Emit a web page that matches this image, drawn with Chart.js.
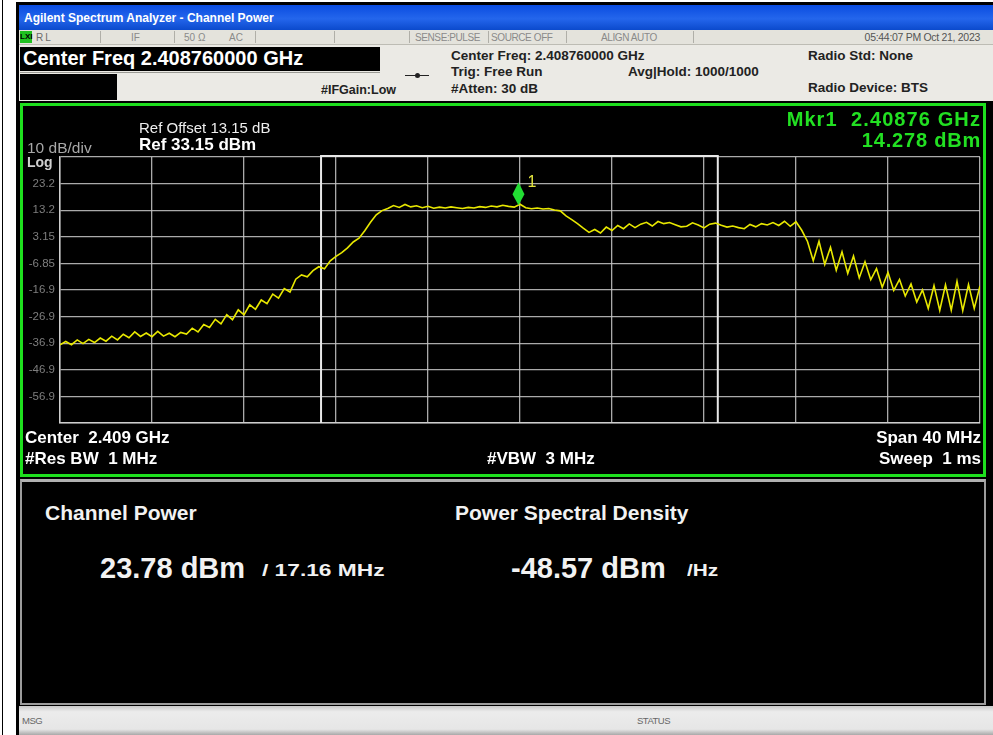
<!DOCTYPE html>
<html><head><meta charset="utf-8">
<script src="https://cdn.jsdelivr.net/npm/chart.js@4.4.1/dist/chart.umd.min.js"></script>
<style>
html,body{margin:0;padding:0;background:#fff;width:993px;height:735px;overflow:hidden;font-family:"Liberation Sans",Arial,sans-serif;}
.a{position:absolute;white-space:nowrap;line-height:1;}
.r{text-align:right;}
</style></head>
<body>
<div class="a" style="left:2px;top:0;width:1px;height:735px;background:#000"></div>
<div class="a" style="left:16px;top:2px;width:977px;height:733px;background:#000"></div>
<div class="a" style="left:19px;top:5px;width:974px;height:25px;background:linear-gradient(#0a4ce0,#2466ec 55%,#0b4acc)"></div>
<div class="a" style="left:24px;top:12px;color:#fff;font-weight:bold;font-size:12px">Agilent Spectrum Analyzer - Channel Power</div>
<!-- status strip -->
<div class="a" style="left:19px;top:30px;width:974px;height:14px;background:#e4e3dc;border-bottom:1px solid #bdbcb4"></div>
<div class="a" style="left:20px;top:31px;width:12px;height:12px;background:#20c020"></div>
<div class="a" style="left:20px;top:33px;font-size:8px;font-weight:bold;color:#000">LXI</div>
<div class="a" style="left:36px;top:33px;font-size:10px;color:#6a6a6a;letter-spacing:2px">RL</div>
<div class="a" style="left:131px;top:33px;font-size:10px;color:#8a8a8a">IF</div>
<div class="a" style="left:184px;top:33px;font-size:10px;color:#8a8a8a">50 Ω</div>
<div class="a" style="left:229px;top:33px;font-size:10px;color:#8a8a8a">AC</div>
<div class="a" style="left:415px;top:33px;font-size:10px;color:#8a8a8a;letter-spacing:-0.4px">SENSE:PULSE</div>
<div class="a" style="left:491px;top:33px;font-size:10px;color:#8a8a8a;letter-spacing:-0.4px">SOURCE OFF</div>
<div class="a" style="left:601px;top:33px;font-size:10px;color:#8a8a8a;letter-spacing:-0.4px">ALIGN AUTO</div>
<div class="a r" style="right:13px;top:32px;font-size:10.5px;color:#555;letter-spacing:-0.3px">05:44:07 PM Oct 21, 2023</div>
<!-- info panel -->
<div class="a" style="left:19px;top:45px;width:974px;height:56px;background:#ebeae5"></div>
<div class="a" style="left:20px;top:47px;width:360px;height:24px;background:#000"></div>
<div class="a" style="left:23px;top:48px;color:#fff;font-weight:bold;font-size:20px">Center Freq 2.408760000 GHz</div>
<div class="a" style="left:20px;top:74px;width:97px;height:26px;background:#000"></div>
<div class="a" style="left:20px;top:72px;width:360px;height:1px;background:#9a9a94"></div>
<div class="a" style="left:321px;top:84px;color:#222;font-weight:bold;font-size:12.5px">#IFGain:Low</div>
<div class="a" style="left:405px;top:75px;width:24px;height:1px;background:#222"></div>
<div class="a" style="left:415px;top:73px;width:5px;height:5px;border-radius:3px;background:#222"></div>
<div class="a" style="left:451px;top:49px;color:#222;font-weight:bold;font-size:13.5px">Center Freq: 2.408760000 GHz</div>
<div class="a" style="left:451px;top:65px;color:#222;font-weight:bold;font-size:13.5px">Trig: Free Run</div>
<div class="a" style="left:451px;top:82px;color:#222;font-weight:bold;font-size:13.5px">#Atten: 30 dB</div>
<div class="a" style="left:628px;top:65px;color:#222;font-weight:bold;font-size:13.5px">Avg|Hold: 1000/1000</div>
<div class="a" style="left:808px;top:49px;color:#222;font-weight:bold;font-size:13.5px">Radio Std: None</div>
<div class="a" style="left:808px;top:81px;color:#222;font-weight:bold;font-size:13.5px">Radio Device: BTS</div>
<!-- graph panel -->
<div class="a" style="left:20px;top:103px;width:966px;height:374px;box-sizing:border-box;border:3px solid #1ee01e;background:#000"></div>
<div class="a" style="left:23px;top:106px;width:960px;height:368px"><canvas id="c" width="960" height="368"></canvas></div>
<div class="a" style="left:139px;top:120px;color:#eee;font-size:15px">Ref Offset 13.15 dB</div>
<div class="a" style="left:139px;top:136px;color:#fff;font-weight:bold;font-size:17px">Ref 33.15 dBm</div>
<div class="a" style="left:27px;top:140px;color:#a8a8a8;font-size:15.5px">10 dB/div</div>
<div class="a" style="left:27px;top:155px;color:#d0d0d0;font-weight:bold;font-size:14px">Log</div>
<div class="a r" style="right:12px;top:109px;color:#22e022;font-weight:bold;font-size:20px;letter-spacing:1.1px">Mkr1&nbsp;&nbsp;2.40876 GHz</div>
<div class="a r" style="right:12px;top:130px;color:#22e022;font-weight:bold;font-size:20px;letter-spacing:0.8px">14.278 dBm</div>
<div class="a" style="left:25px;top:429px;color:#fff;font-weight:bold;font-size:17px">Center&nbsp;&nbsp;2.409 GHz</div>
<div class="a" style="left:25px;top:450px;color:#fff;font-weight:bold;font-size:17px">#Res BW&nbsp;&nbsp;1 MHz</div>
<div class="a" style="left:487px;top:450px;color:#fff;font-weight:bold;font-size:17px">#VBW&nbsp;&nbsp;3 MHz</div>
<div class="a r" style="right:12px;top:429px;color:#fff;font-weight:bold;font-size:17px">Span 40 MHz</div>
<div class="a r" style="right:12px;top:450px;color:#fff;font-weight:bold;font-size:17px">Sweep&nbsp;&nbsp;1 ms</div>
<!-- lower panel -->
<div class="a" style="left:20px;top:479px;width:966px;height:226px;box-sizing:border-box;border:2px solid #9c9c9c;border-top:3px solid #b0b0b0;background:#000"></div>
<div class="a" style="left:45px;top:502px;color:#f2f2f2;font-weight:bold;font-size:21px">Channel Power</div>
<div class="a" style="left:455px;top:502px;color:#f2f2f2;font-weight:bold;font-size:21px">Power Spectral Density</div>
<div class="a" style="left:100px;top:554px;color:#f2f2f2;font-weight:bold;font-size:29px">23.78 dBm</div>
<div class="a" style="left:262px;top:563px;color:#f2f2f2;font-weight:bold;font-size:16px;transform:scaleX(1.42);transform-origin:left">/ 17.16 MHz</div>
<div class="a" style="left:511px;top:554px;color:#f2f2f2;font-weight:bold;font-size:29px">-48.57 dBm</div>
<div class="a" style="left:687px;top:563px;color:#f2f2f2;font-weight:bold;font-size:16px;transform:scaleX(1.3);transform-origin:left">/Hz</div>
<!-- status bar -->
<div class="a" style="left:19px;top:706px;width:974px;height:29px;background:linear-gradient(#c8c8c8,#ececec 20%,#e6e6e6 80%,#a8a8a8)"></div>
<div class="a" style="left:22px;top:716px;color:#666;font-size:9.5px;letter-spacing:-0.5px">MSG</div>
<div class="a" style="left:637px;top:716px;color:#666;font-size:9.5px;letter-spacing:-0.5px">STATUS</div>
<script>
[100,174,255,334,409,488,566,693].forEach(function(x){
  var d=document.createElement('div');d.className='a';
  d.style.cssText='left:'+x+'px;top:31px;width:1px;height:12px;background:#b0afa8';
  document.body.appendChild(d);
});

const startMHz = 2389;
const stopMHz = 2429;
const refLevel = 33.15;
const dbPerDiv = 10;
const numDivs = 10;
const yTickLabels = ['23.2','13.2','3.15','-6.85','-16.9','-26.9','-36.9','-46.9','-56.9'];
const traceDbm = [
 -37.5,-36.2,-37.4,-35.6,-37.0,-35.4,-36.6,-34.9,-36.1,-34.2,-35.6,-33.5,-34.8,-32.6,-34.3,-33.0,-34.4,-32.4,-34.2,-33.1,-34.4,
 -32.8,-33.4,-31.2,-32.6,-29.8,-30.9,-27.9,-29.6,-26.1,-28.0,-24.3,-26.2,-22.4,-24.1,-20.6,-22.0,-18.4,-19.9,-16.3,-17.6,
 -12.8,-11.2,-11.9,-9.6,-8.1,-8.9,-5.9,-4.2,-2.8,-1.0,1.2,2.6,5.4,8.6,11.4,13.0,
 13.8,14.9,14.2,15.3,14.4,14.8,14.1,14.6,13.9,14.3,14.0,14.4,14.1,13.8,14.2,14.0,14.5,14.2,14.7,14.4,15.0,14.6,14.3,15.4,
 14.1,13.7,14.0,13.6,13.8,13.2,12.9,11.0,9.6,8.1,6.4,4.8,
 5.9,4.6,6.8,5.5,7.4,6.2,8.0,6.6,7.9,8.6,7.2,8.9,8.1,8.5,7.7,6.9,7.1,8.4,7.6,6.5,7.9,8.3,7.5,6.8,7.2,6.6,6.2,7.8,6.9,8.1,7.6,8.5,7.4,9.0,7.1,8.8,
 5.6,1.4,-5.8,1.5,-7.2,-0.8,-9.4,-2.5,-10.6,-4.1,-12.3,-6.2,-13.0,-8.8,-15.8,-10.2,-17.0,-12.9,-19.1,-14.6,-21.4,-16.8,-23.8,-15.2,-24.5,-14.9,-24.4,-13.6,-24.6,-14.8,-23.8,-15.3
];
const markerFreqMHz = 2408.76;
const markerDbm = 14.278;
const channelEdgesMHz = [2400.35, 2417.6];

const bottomLevel = refLevel - dbPerDiv*numDivs;
const stepMHz = (stopMHz-startMHz)/(traceDbm.length-1);
const tracePts = traceDbm.map((v,i)=>({x:startMHz+i*stepMHz, y:v}));

const overlay = {
  id:'overlay',
  beforeDatasetsDraw(chart){
    const {ctx, chartArea:a, scales:{x}} = chart;
    ctx.save();
    ctx.strokeStyle='#e8e8e8'; ctx.lineWidth=2;
    const x1=x.getPixelForValue(channelEdgesMHz[0]), x2=x.getPixelForValue(channelEdgesMHz[1]);
    ctx.beginPath();
    ctx.moveTo(x1,a.bottom); ctx.lineTo(x1,a.top-1); ctx.lineTo(x2,a.top-1); ctx.lineTo(x2,a.bottom);
    ctx.stroke();
    ctx.restore();
  },
  afterDatasetsDraw(chart){
    const {ctx, scales:{x,y}} = chart;
    const px=x.getPixelForValue(markerFreqMHz), py=y.getPixelForValue(markerDbm);
    ctx.save();
    ctx.fillStyle='#22dd33';
    ctx.beginPath();
    ctx.moveTo(px+4,py-2); ctx.lineTo(px+10,py-13); ctx.lineTo(px+4,py-25); ctx.lineTo(px-2,py-13); ctx.closePath();
    ctx.fill();
    ctx.fillStyle='#e4e640';
    ctx.font='16px "Liberation Sans", Arial';
    ctx.fillText('1', px+13, py-20);
    ctx.restore();
  }
};

new Chart(document.getElementById('c'), {
  type:'line',
  data:{datasets:[{data:tracePts, borderColor:'#e8e800', borderWidth:1.6, pointRadius:0, tension:0, fill:false}]},
  options:{
    responsive:false, animation:false, events:[],
    layout:{padding:{top:51,right:3,bottom:51,left:0}},
    plugins:{legend:{display:false}, tooltip:{enabled:false}},
    scales:{
      x:{type:'linear', min:startMHz, max:stopMHz,
         afterBuildTicks(s){ s.ticks=[]; for(let k=0;k<=numDivs;k++) s.ticks.push({value:startMHz+k*(stopMHz-startMHz)/numDivs}); },
         afterFit(s){ s.height=0; },
         ticks:{display:false},
         grid:{color:'rgba(200,200,200,0.85)', lineWidth:1.3, drawTicks:false},
         border:{color:'rgba(210,210,210,0.9)', width:1.5}},
      y:{type:'linear', min:bottomLevel, max:refLevel,
         afterBuildTicks(s){ s.ticks=[]; for(let k=numDivs;k>=0;k--) s.ticks.push({value:refLevel-k*dbPerDiv}); },
         afterFit(s){ s.width=37; },
         ticks:{padding:5, color:'#7e7e7e', font:{family:'"Liberation Sans", Arial', size:11.5},
           callback(v){ const k=Math.round((refLevel-v)/dbPerDiv); return (k>=1&&k<=9)?yTickLabels[k-1]:''; }},
         grid:{color:'rgba(200,200,200,0.85)', lineWidth:1.3, drawTicks:false},
         border:{color:'rgba(210,210,210,0.9)', width:1.5}}
    }
  },
  plugins:[overlay]
});
</script>
</body></html>
